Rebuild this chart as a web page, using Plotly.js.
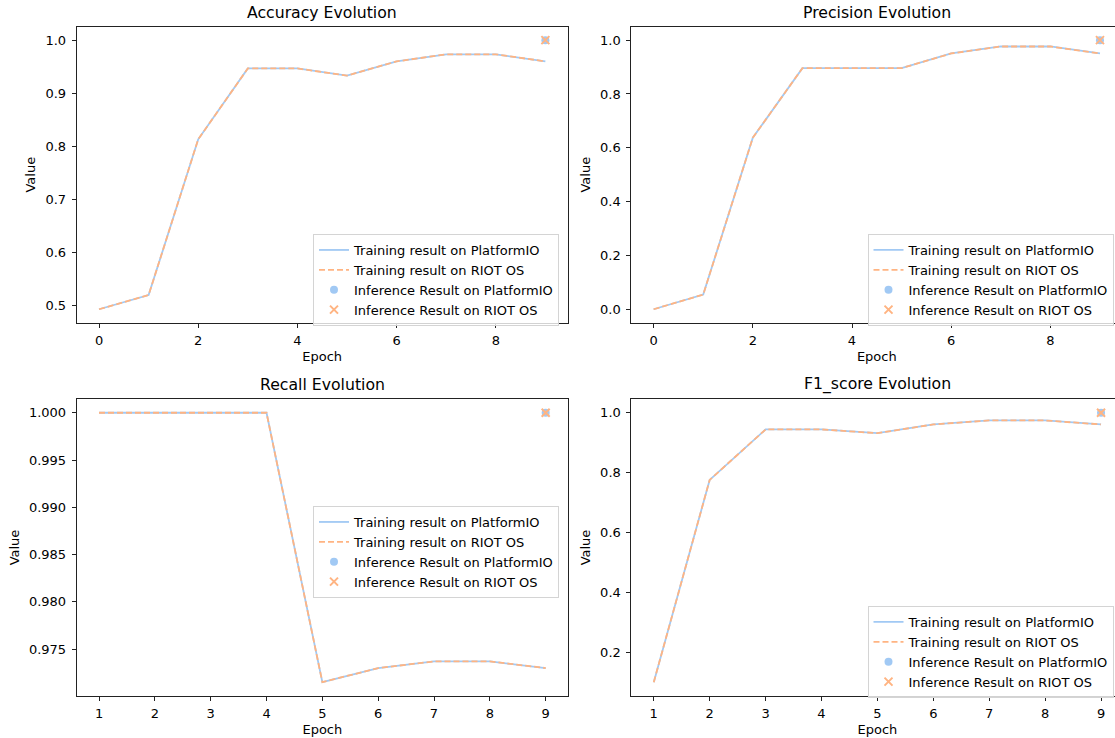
<!DOCTYPE html>
<html>
<head>
<meta charset="utf-8">
<script src="https://cdn.plot.ly/plotly-3.0.1.min.js"></script>
<style>
html,body{margin:0;padding:0;overflow:hidden;background:#fff;}
#chart{width:1130px;height:738px;}
</style>
</head>
<body>
<div id="chart"></div>
<script>
// ---- data ----
const accEpochs = [0, 1, 2, 3, 4, 5, 6, 7, 8, 9];
const accuracyPio  = [0.4933, 0.52, 0.8133, 0.9467, 0.9467, 0.9333, 0.96, 0.9733, 0.9733, 0.96];
const accuracyRiot = [0.4933, 0.52, 0.8133, 0.9467, 0.9467, 0.9333, 0.96, 0.9733, 0.9733, 0.96];

const precEpochs = [0, 1, 2, 3, 4, 5, 6, 7, 8, 9];
const precisionPio  = [0.0, 0.0545, 0.6374, 0.896, 0.896, 0.896, 0.9505, 0.9765, 0.9765, 0.9505];
const precisionRiot = [0.0, 0.0545, 0.6374, 0.896, 0.896, 0.896, 0.9505, 0.9765, 0.9765, 0.9505];

const recallEpochs = [1, 2, 3, 4, 5, 6, 7, 8, 9];
const recallPio  = [1.0, 1.0, 1.0, 1.0, 0.9715, 0.9730, 0.9737, 0.9737, 0.9730];
const recallRiot = [1.0, 1.0, 1.0, 1.0, 0.9715, 0.9730, 0.9737, 0.9737, 0.9730];

const f1Epochs = [1, 2, 3, 4, 5, 6, 7, 8, 9];
const f1Pio  = [0.1008, 0.776, 0.9443, 0.9443, 0.932, 0.961, 0.9744, 0.9744, 0.961];
const f1Riot = [0.1008, 0.776, 0.9443, 0.9443, 0.932, 0.961, 0.9744, 0.9744, 0.961];

const metricTitles = ["Accuracy Evolution", "Precision Evolution", "Recall Evolution", "F1_score Evolution"];
const inferenceEpoch = [9];
const inferencePio  = [1.0, 1.0, 1.0, 1.0];   // accuracy, precision, recall, f1
const inferenceRiot = [1.0, 1.0, 1.0, 1.0];

const seriesNames = ["Training result on PlatformIO", "Training result on RIOT OS",
                     "Inference Result on PlatformIO", "Inference Result on RIOT OS"];

// ---- layout helpers ----
const W = 1130, H = 738;
const FONT = "DejaVu Sans, Liberation Sans, sans-serif";
const BLUE = "#a1c9f4", ORANGE = "#ffb482";
const fx = p => p / W;
const fy = p => 1 - p / H;

const panels = [
  {x: accEpochs,    pio: accuracyPio,  riot: accuracyRiot,  box: [76.7, 567.7, 26.7, 322.7], xd: 2, yd: 0.1,   yf: ".1f", leg: [313, 234]},
  {x: precEpochs,   pio: precisionPio, riot: precisionRiot, box: [631.3, 1122.3, 26.7, 322.7], xd: 2, yd: 0.2, yf: ".1f", leg: [867.5, 234]},
  {x: recallEpochs, pio: recallPio,    riot: recallRiot,    box: [76.7, 568, 399.3, 695.7], xd: 1, yd: 0.005,  yf: ".3f", leg: [313, 506]},
  {x: f1Epochs,     pio: f1Pio,        riot: f1Riot,        box: [631.4, 1123.4, 399.3, 695.7], xd: 1, yd: 0.2, yf: ".1f", leg: [867.5, 606]}
];

function padRange(vals) {
  const lo = Math.min(...vals), hi = Math.max(...vals);
  const m = (hi - lo) * 0.05;
  return [lo - m, hi + m];
}

const traces = [];
const layout = {
  width: W, height: H,
  margin: {l: 0, r: 0, t: 0, b: 0, pad: 0},
  paper_bgcolor: "#fff", plot_bgcolor: "#fff",
  font: {family: FONT, size: 13, color: "#000"},
  annotations: [],
  hovermode: false
};

panels.forEach((p, i) => {
  const n = i === 0 ? "" : String(i + 1);
  const xa = "x" + n, ya = "y" + n, lg = "legend" + n;
  traces.push({x: p.x, y: p.pio, xaxis: xa, yaxis: ya, legend: lg, type: "scatter", mode: "lines",
    name: seriesNames[0], line: {color: BLUE, width: 1.8}});
  traces.push({x: p.x, y: p.riot, xaxis: xa, yaxis: ya, legend: lg, type: "scatter", mode: "lines",
    name: seriesNames[1], line: {color: ORANGE, width: 1.8, dash: "6px,3px"}});
  traces.push({x: inferenceEpoch, y: [inferencePio[i]], xaxis: xa, yaxis: ya, legend: lg, type: "scatter", mode: "markers",
    name: seriesNames[2], marker: {color: BLUE, size: 8, symbol: "circle"}});
  traces.push({x: inferenceEpoch, y: [inferenceRiot[i]], xaxis: xa, yaxis: ya, legend: lg, type: "scatter", mode: "markers",
    name: seriesNames[3], marker: {color: ORANGE, size: 8, symbol: "x-thin", line: {color: ORANGE, width: 2}}});

  const xr = padRange(p.x);
  const yr = padRange(p.pio.concat(p.riot, [inferencePio[i], inferenceRiot[i]]));
  const [l, r, t, b] = p.box;
  const axCommon = {showline: true, mirror: true, linecolor: "#222", linewidth: 1,
    ticks: "outside", ticklen: 4, tickwidth: 1, tickcolor: "#222", showgrid: false, zeroline: false,
    tickfont: {family: FONT, size: 13, color: "#000"}, automargin: false, fixedrange: true};
  layout["xaxis" + n] = Object.assign({}, axCommon, {
    domain: [fx(l), fx(r)], anchor: ya, range: xr, dtick: p.xd, tick0: 0,
    ticklabelstandoff: 2,
    title: {text: "Epoch", font: {family: FONT, size: 13, color: "#000"}, standoff: 4}
  });
  layout["yaxis" + n] = Object.assign({}, axCommon, {
    domain: [fy(b), fy(t)], anchor: xa, range: yr, dtick: p.yd, tick0: 0, tickformat: p.yf,
    ticklabelstandoff: 3,
    title: {text: "Value", font: {family: FONT, size: 13, color: "#000"}, standoff: 6}
  });
  layout.annotations.push({text: metricTitles[i], xref: "paper", yref: "paper",
    x: fx((l + r) / 2), y: fy(t - 3), xanchor: "center", yanchor: "bottom", showarrow: false,
    font: {family: FONT, size: 15.7, color: "#000"}});
  layout[lg] = {x: fx(p.leg[0]), y: fy(p.leg[1]), xanchor: "left", yanchor: "top", xref: "paper", yref: "paper",
    bgcolor: "rgba(255,255,255,0.8)", bordercolor: "#d4d4d4", borderwidth: 1,
    font: {family: FONT, size: 13, color: "#000"}, tracegroupgap: 0, itemwidth: 30};
});

Plotly.newPlot("chart", traces, layout, {staticPlot: true, displayModeBar: false});
</script>
</body>
</html>
